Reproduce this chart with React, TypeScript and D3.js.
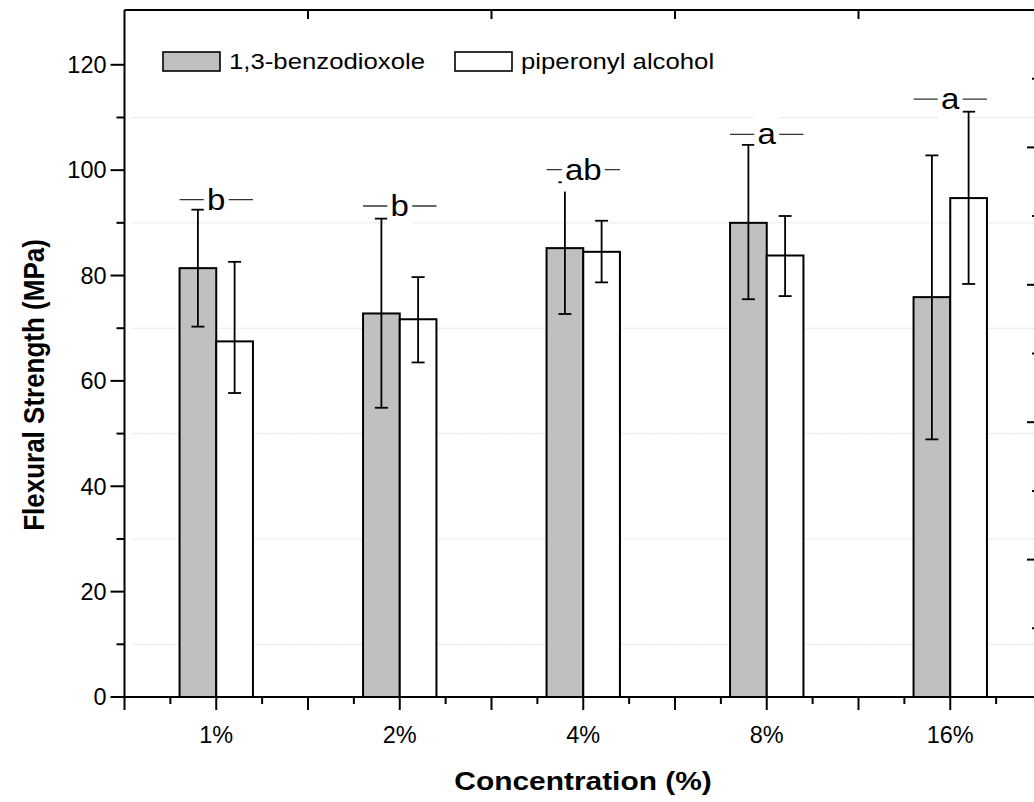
import React from "react";
import { scaleLinear, range } from "d3";

const categories = ["1%", "2%", "4%", "8%", "16%"];
const benzoMean = [81.4, 72.8, 85.2, 90.0, 75.9];
const benzoLow = [70.3, 54.9, 72.7, 75.5, 48.9];
const benzoHigh = [92.5, 90.8, 97.7, 104.8, 102.8];
const piperMean = [67.5, 71.7, 84.5, 83.8, 94.7];
const piperLow = [57.7, 63.5, 78.7, 76.1, 78.4];
const piperHigh = [82.6, 79.7, 90.4, 91.3, 111.1];
const letters = ["b", "b", "ab", "a", "a"];
const letterLevel = [94.4, 93.2, 100.1, 106.8, 113.5];
const seriesNames = ["1,3-benzodioxole", "piperonyl alcohol"];
const yTicks = [0, 20, 40, 60, 80, 100, 120];

const FONT = "'Liberation Sans', Arial, sans-serif";
const SX = 1.15; // horizontal stretch of the exported picture

// text stretched horizontally around its anchor
function SText({ x, y, sx = SX, children, ...rest }: any) {
  return (
    <text transform={`translate(${x},${y}) scale(${sx},1)`} {...rest}>
      {children}
    </text>
  );
}

export default function App() {
  const width = 1034,
    height = 802,
    left = 124.5,
    right = 1042,
    top = 10,
    bottom = 697,
    x = scaleLinear().domain([0.5, 5.5]).range([left, right]),
    y = scaleLinear().domain([0, 130.4]).range([bottom, top]),
    yRight = scaleLinear().domain([0, 5]).range([bottom, top]),
    barW = x(0.7) - x(0.5),
    capW = 13;

  const series = [
    { mean: benzoMean, lo: benzoLow, hi: benzoHigh, fill: "#c0c0c0", offset: -barW },
    { mean: piperMean, lo: piperLow, hi: piperHigh, fill: "#ffffff", offset: 0 },
  ];

  return (
    <svg
      width={width}
      height={height}
      style={{ position: "absolute", left: 0, top: 0, fontFamily: FONT }}
    >
      <rect width={width} height={height} fill="#fff" />
      {/* grid */}
      {range(10, 120, 20).map((v) => (
        <line
          key={v}
          x1={left + 8}
          x2={right}
          y1={y(v)}
          y2={y(v)}
          stroke="#c4c4c4"
          strokeWidth={1}
          strokeDasharray="1,2"
        />
      ))}

      {/* bars */}
      {series.map((s, si) =>
        categories.map((c, i) => (
          <rect
            key={si + c}
            x={x(i + 1) + s.offset}
            y={y(s.mean[i])}
            width={barW}
            height={bottom - y(s.mean[i])}
            fill={s.fill}
            stroke="#000"
            strokeWidth={2}
          />
        ))
      )}

      {/* error bars */}
      {series.map((s, si) =>
        categories.map((c, i) => {
          const cx = x(i + 1) + s.offset + barW / 2;
          const hi = y(s.hi[i]);
          const lo = y(s.lo[i]);
          return (
            <g key={"e" + si + c} stroke="#000" strokeWidth={1.8}>
              <line x1={cx} x2={cx} y1={hi} y2={lo} />
              <line x1={cx - capW / 2} x2={cx + capW / 2} y1={hi} y2={hi} />
              <line x1={cx - capW / 2} x2={cx + capW / 2} y1={lo} y2={lo} />
            </g>
          );
        })
      )}

      {/* significance letters */}
      {letters.map((l, i) => {
        const cx = x(i + 1);
        const ly = y(letterLevel[i]);
        const half = l.length * 9 + 3.5;
        return (
          <g key={"l" + i}>
            <line
              x1={cx - barW}
              x2={cx + barW}
              y1={ly}
              y2={ly}
              stroke="#333"
              strokeWidth={1.3}
            />
            <rect x={cx - half} y={ly - 22} width={half * 2} height={44} fill="#fff" />
            <SText x={cx} y={ly + 10} sx={1.1} textAnchor="middle" fontSize={30}>
              {l}
            </SText>
          </g>
        );
      })}

      {/* frame */}
      <g stroke="#000" strokeWidth={2} fill="none">
        <line x1={left} x2={left} y1={top} y2={bottom} />
        <line x1={left} x2={right} y1={bottom} y2={bottom} />
        <line x1={left} x2={right} y1={top} y2={top} />
        <line x1={right} x2={right} y1={top} y2={bottom} />
      </g>

      {/* left axis ticks */}
      {yTicks.map((v) => (
        <g key={"yt" + v}>
          <line x1={left - 14} x2={left} y1={y(v)} y2={y(v)} stroke="#000" strokeWidth={2} />
          <SText x={left - 18} y={y(v)} sx={1.02} dy="0.36em" textAnchor="end" fontSize={23}>
            {v}
          </SText>
        </g>
      ))}
      {range(10, 130, 20).map((v) => (
        <line key={"ym" + v} x1={left - 8} x2={left} y1={y(v)} y2={y(v)} stroke="#000" strokeWidth={2} />
      ))}

      {/* bottom axis ticks */}
      {range(0.5, 5.51, 0.5).map((v) => (
        <line key={"xt" + v} x1={x(v)} x2={x(v)} y1={bottom} y2={bottom + 13} stroke="#000" strokeWidth={2} />
      ))}
      {range(0.75, 5.5, 0.5).map((v) => (
        <line key={"xm" + v} x1={x(v)} x2={x(v)} y1={bottom} y2={bottom + 7} stroke="#000" strokeWidth={2} />
      ))}
      {categories.map((c, i) => (
        <SText key={"xl" + c} x={x(i + 1)} y={bottom + 38} sx={1.02} dy="0.36em" textAnchor="middle" fontSize={23}>
          {c}
        </SText>
      ))}

      {/* top axis ticks */}
      {[1.5, 2.5, 3.5, 4.5].map((v) => (
        <line key={"tt" + v} x1={x(v)} x2={x(v)} y1={top} y2={top + 9} stroke="#000" strokeWidth={2} />
      ))}

      {/* right axis ticks */}
      {[1, 2, 3, 4].map((v) => (
        <line key={"rt" + v} x1={right - 15} x2={right} y1={yRight(v)} y2={yRight(v)} stroke="#000" strokeWidth={2} />
      ))}
      {[0.5, 1.5, 2.5, 3.5, 4.5].map((v) => (
        <line key={"rm" + v} x1={right - 10} x2={right} y1={yRight(v)} y2={yRight(v)} stroke="#000" strokeWidth={2} />
      ))}

      {/* legend */}
      {seriesNames.map((n, i) => {
        const lx = [163, 455][i];
        return (
          <g key={"lg" + n}>
            <rect x={lx} y={52} width={57} height={19} fill={series[i].fill} stroke="#000" strokeWidth={1.6} />
            <SText x={lx + 66} y={61.5} sx={1.17} dy="0.36em" fontSize={22}>
              {n}
            </SText>
          </g>
        );
      })}

      {/* axis titles */}
      <text
        transform={`translate(44,385) scale(${SX},1) rotate(-90)`}
        textAnchor="middle"
        fontSize={26}
        fontWeight="bold"
      >
        Flexural Strength (MPa)
      </text>
      <SText x={583} y={790} textAnchor="middle" fontSize={26} fontWeight="bold">
        Concentration (%)
      </SText>
    </svg>
  );
}
